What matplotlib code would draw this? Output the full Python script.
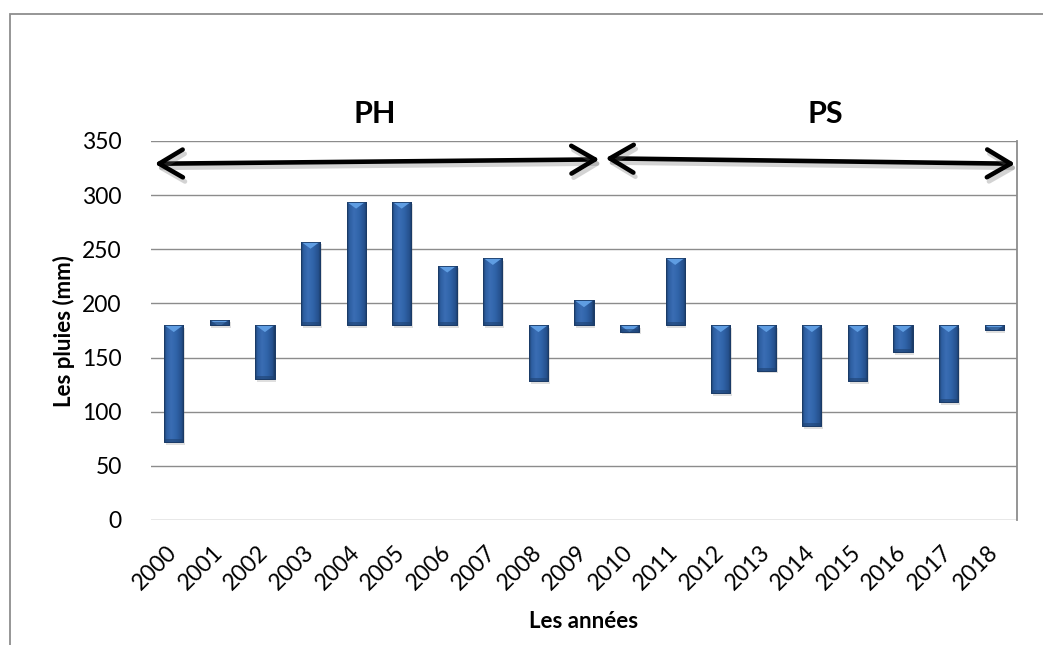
import numpy as np
import matplotlib
matplotlib.use("Agg")
import matplotlib.pyplot as plt
import matplotlib.patheffects as pe
from matplotlib.patches import Polygon, Rectangle, FancyArrowPatch
from matplotlib.colors import LinearSegmentedColormap

plt.rcParams['font.family'] = ['Lato', 'DejaVu Sans']

# Annual rainfall (mm), drawn as deviations from the long-term mean
years = [str(y) for y in range(2000, 2019)]
rain = [72, 185, 130, 257, 294, 294, 235, 242, 128, 203,
        174, 242, 117, 138, 87, 128, 155, 109, 175]
mean_rain = 180

y_ticks = [0, 50, 100, 150, 200, 250, 300, 350]
periods = ["PH", "PS"]

W, H, DPI = 1043, 645, 100
fig = plt.figure(figsize=(W / DPI, H / DPI), dpi=DPI)
ax = fig.add_axes([151 / W, 1 - 520 / H, (1017 - 151) / W, (520 - 141) / H])

x = np.arange(len(years))
deltas = [r - mean_rain for r in rain]
bars = ax.bar(x, deltas, bottom=mean_rain, width=0.42, color="#2b5a99",
              edgecolor="#1a3a66", linewidth=0.6, zorder=3)

ax.set_xlim(-0.5, len(years) - 0.5)
ax.set_ylim(0, 350)

# pixel height -> data height
px_per_unit = (520 - 141) / 350.0
bevel = 7 / px_per_unit

# horizontal shading of the bar body
body_cmap = LinearSegmentedColormap.from_list(
    "body", [(0.0, "#1c3c68"), (0.12, "#2d5ea0"), (0.35, "#3a6db4"),
             (0.6, "#3165aa"), (0.88, "#25518e"), (1.0, "#1a3862")])
grad = np.linspace(0, 1, 64).reshape(1, -1)

for b in bars:
    b.set_path_effects([pe.SimplePatchShadow(offset=(1.2, -2), shadow_rgbFace="#707070",
                                             alpha=0.22), pe.Normal()])
    bx, bw = b.get_x(), b.get_width()
    y0 = b.get_y()
    y1 = y0 + b.get_height()
    lo, hi = min(y0, y1), max(y0, y1)
    im = ax.imshow(grad, extent=[bx, bx + bw, lo, hi], aspect="auto",
                   cmap=body_cmap, zorder=3.1, interpolation="bilinear")
    im.set_clip_path(b)
    # lighter bevel at the top end
    tri = Polygon([[bx, hi], [bx + bw, hi], [bx + bw / 2, hi - bevel]],
                  closed=True, facecolor="#5f9de2", edgecolor="none", zorder=3.2)
    ax.add_patch(tri)
    tri.set_clip_path(b)
    # subtle band at the bottom end
    band = Rectangle((bx, lo), bw, 3 / px_per_unit, facecolor="#1e4272",
                     edgecolor="none", alpha=0.6, zorder=3.2)
    ax.add_patch(band)
    band.set_clip_path(b)
    # outline on top
    ol = Rectangle((bx, lo), bw, hi - lo, fill=False, edgecolor="#1a3a66",
                   linewidth=0.6, zorder=3.3)
    ax.add_patch(ol)

ax.set_xlim(-0.5, len(years) - 0.5)
ax.set_ylim(0, 350)

ax.set_yticks(y_ticks)
ax.set_yticklabels([str(t) for t in y_ticks], fontsize=16.5)
ax.set_xticks(x)
ax.set_xticklabels(years, fontsize=16.5, rotation=45, ha="right",
                   va="center", rotation_mode="anchor")
ax.tick_params(axis="both", length=0)
ax.tick_params(axis="y", pad=21)
ax.tick_params(axis="x", pad=21)

ax.grid(axis="y", color="#8c8c8c", linewidth=1.0)
ax.set_axisbelow(True)
for side in ["left", "top", "bottom"]:
    ax.spines[side].set_visible(False)
ax.spines["right"].set_color("#8c8c8c")
ax.spines["right"].set_linewidth(1.3)

# period arrows
arrow_kw = dict(arrowstyle="<->,head_length=0.85,head_width=0.5", mutation_scale=20,
                color="black", linewidth=3.3, shrinkA=0, shrinkB=0,
                clip_on=False, zorder=5, capstyle="round", joinstyle="round")
shadow = [pe.SimpleLineShadow(offset=(1.5, -3), shadow_color="#707070", alpha=0.3),
          pe.Normal()]
a1 = FancyArrowPatch((-0.42, 329), (9.34, 333), **arrow_kw)
a2 = FancyArrowPatch((9.47, 334), (18.46, 329), **arrow_kw)
for a in (a1, a2):
    a.set_path_effects(shadow)
    ax.add_patch(a)

ax.text(4.4, 374.5, periods[0], fontsize=22, fontweight="bold", ha="center",
        va="center", clip_on=False)
ax.text(14.29, 374.5, periods[1], fontsize=22, fontweight="bold", ha="center",
        va="center", clip_on=False)

fig.text(64 / W, 1 - 331 / H, "Les pluies (mm)", rotation=90, fontsize=16,
         fontweight="bold", ha="center", va="center")
fig.text(584 / W, 1 - 622 / H, "Les années", fontsize=16, fontweight="bold",
         ha="center", va="center")

# chart frame
fig.add_artist(Rectangle((10 / W, -0.1), 1.2, 1.1 - 14 / H, transform=fig.transFigure,
                         fill=False, edgecolor="#8e8e8e", linewidth=1.3))

fig.savefig("out.png", dpi=DPI)
